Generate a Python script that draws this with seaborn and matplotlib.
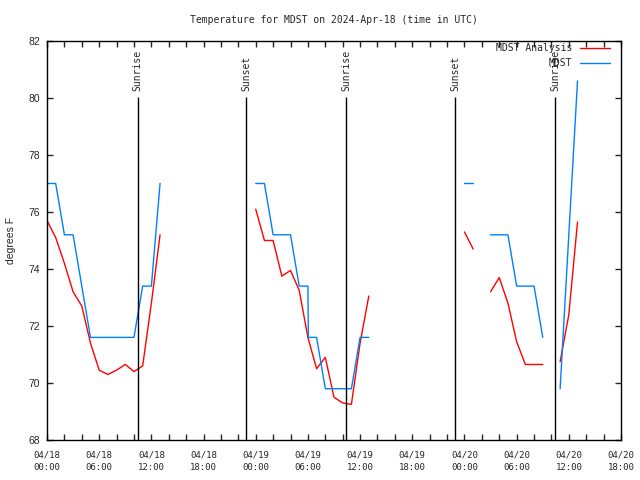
""" Temperature chart for MDST, observed vs analysis """

import numpy as np
import pandas as pd
import matplotlib
matplotlib.use("Agg")
import matplotlib.pyplot as plt
import matplotlib.dates as mdates
import seaborn as sns

start = pd.Timestamp("2024-04-18 00:00")
nan = np.nan

# observed temps (hours after start), NaN breaks the line
obs_hour = [0, 1, 2, 3, 4, 5, 6, 7, 8, 9, 10, 11, 12, 13, 14,
            24, 25, 26, 27, 28, 29, 30, 30.05, 31, 32, 33, 34, 35, 36, 37, 38,
            48, 49, 50, 51, 52, 53, 54, 55, 56, 57, 58, 59, 60, 61]
obs_temp = [77.0, 77.0, 75.2, 75.2, 73.4, 71.6, 71.6, 71.6, 71.6, 71.6, 71.6, 73.4, 73.4, 77.0, nan,
            77.0, 77.0, 75.2, 75.2, 75.2, 73.4, 73.4, 71.6, 71.6, 69.8, 69.8, 69.8, 69.8, 71.6, 71.6, nan,
            77.0, 77.0, nan, 75.2, 75.2, 75.2, 73.4, 73.4, 73.4, 71.6, nan, 69.8, 75.2, 80.6]

# analysis temps
ana_hour = [0, 1, 2, 3, 4, 5, 6, 7, 8, 9, 10, 11, 12, 13, 14,
            24, 25, 26, 27, 28, 29, 30, 31, 32, 33, 34, 35, 36, 37, 38,
            48, 49, 50, 51, 52, 53, 54, 55, 56, 57, 58, 59, 60, 61]
ana_temp = [75.7, 75.1, 74.2, 73.2, 72.7, 71.4, 70.45, 70.3, 70.45, 70.65, 70.4, 70.6, 72.8, 75.2, nan,
            76.1, 75.0, 75.0, 73.75, 73.95, 73.25, 71.6, 70.5, 70.9, 69.5, 69.3, 69.25, 71.4, 73.05, nan,
            75.3, 74.7, nan, 73.2, 73.7, 72.8, 71.45, 70.65, 70.65, 70.65, nan, 70.75, 72.4, 75.65]

# sun events (hours after start)
event_hour = [10.42, 22.92, 34.42, 46.93, 58.40]
event_name = ["Sunrise", "Sunset", "Sunrise", "Sunset", "Sunrise"]

mono = "DejaVu Sans Mono"
sans = "Liberation Sans"


def build_frame(hours, temps, name):
    """ Build a long frame, one unit per unbroken run """
    df = pd.DataFrame({"hour": hours, "temp": temps})
    df["seg"] = df["temp"].isna().cumsum()
    df = df.dropna()
    df["time"] = start + pd.to_timedelta(df["hour"], unit="h")
    df["series"] = name
    df["unit"] = name + df["seg"].astype(str)
    return df


df = pd.concat([build_frame(ana_hour, ana_temp, "MDST Analysis"),
                build_frame(obs_hour, obs_temp, "MDST")])

sns.set_theme(style="ticks", rc={
    "axes.edgecolor": "black",
    "axes.linewidth": 1.0,
    "xtick.direction": "in",
    "ytick.direction": "in",
    "xtick.top": True,
    "ytick.right": True,
    "xtick.major.size": 4,
    "xtick.minor.size": 4,
    "ytick.major.size": 4,
    "xtick.major.width": 1.0,
    "xtick.minor.width": 1.0,
    "ytick.major.width": 1.0,
})

fig = plt.figure(figsize=(6.4, 4.8), dpi=100)
ax = fig.add_axes([47 / 640, 40 / 480, 574 / 640, 399 / 480])

sns.lineplot(data=df, x="time", y="temp", hue="series", units="unit",
             estimator=None, sort=True, ax=ax, linewidth=1.0,
             hue_order=["MDST Analysis", "MDST"],
             palette={"MDST Analysis": "#ff0000", "MDST": "#0080ff"})

# sunrise / sunset markers
for h, name in zip(event_hour, event_name):
    t = start + pd.Timedelta(hours=h)
    ax.vlines(t, 68, 80.05, color="black", linewidth=1.0)
    ax.text(t, 80.25, name, rotation=90, ha="center", va="bottom",
            family=mono, fontsize=7)

ax.set_xlim(start, start + pd.Timedelta(hours=66))
ax.set_ylim(68, 82)
ax.set_yticks(np.arange(68, 83, 2))
ax.xaxis.set_major_locator(mdates.HourLocator(byhour=range(0, 24, 6)))
ax.xaxis.set_minor_locator(mdates.HourLocator(byhour=range(0, 24, 2)))
ax.xaxis.set_major_formatter(mdates.DateFormatter("%m/%d\n%H:%M"))
ax.tick_params(axis="x", which="both", pad=7.5, labelsize=6.5)
ax.tick_params(axis="y", pad=5, labelsize=7.5)
for lbl in ax.get_xticklabels():
    lbl.set_family(mono)
    lbl.set_linespacing(1.5)
for lbl in ax.get_yticklabels():
    lbl.set_family(sans)

ax.set_xlabel("")
ax.set_ylabel("degrees F", family=sans, fontsize=7.5, labelpad=9)
ax.set_title("Temperature for MDST on 2024-Apr-18 (time in UTC)",
             family=mono, fontsize=7, pad=13)

handles, labels = ax.get_legend_handles_labels()
ax.legend(handles, labels, loc="upper right", bbox_to_anchor=(0.98, 0.995),
          frameon=False, markerfirst=False, prop={"family": mono, "size": 7},
          handlelength=3.0, handletextpad=0.8, labelspacing=0.55,
          borderpad=0, borderaxespad=0)

fig.savefig("out.png", dpi=100)
